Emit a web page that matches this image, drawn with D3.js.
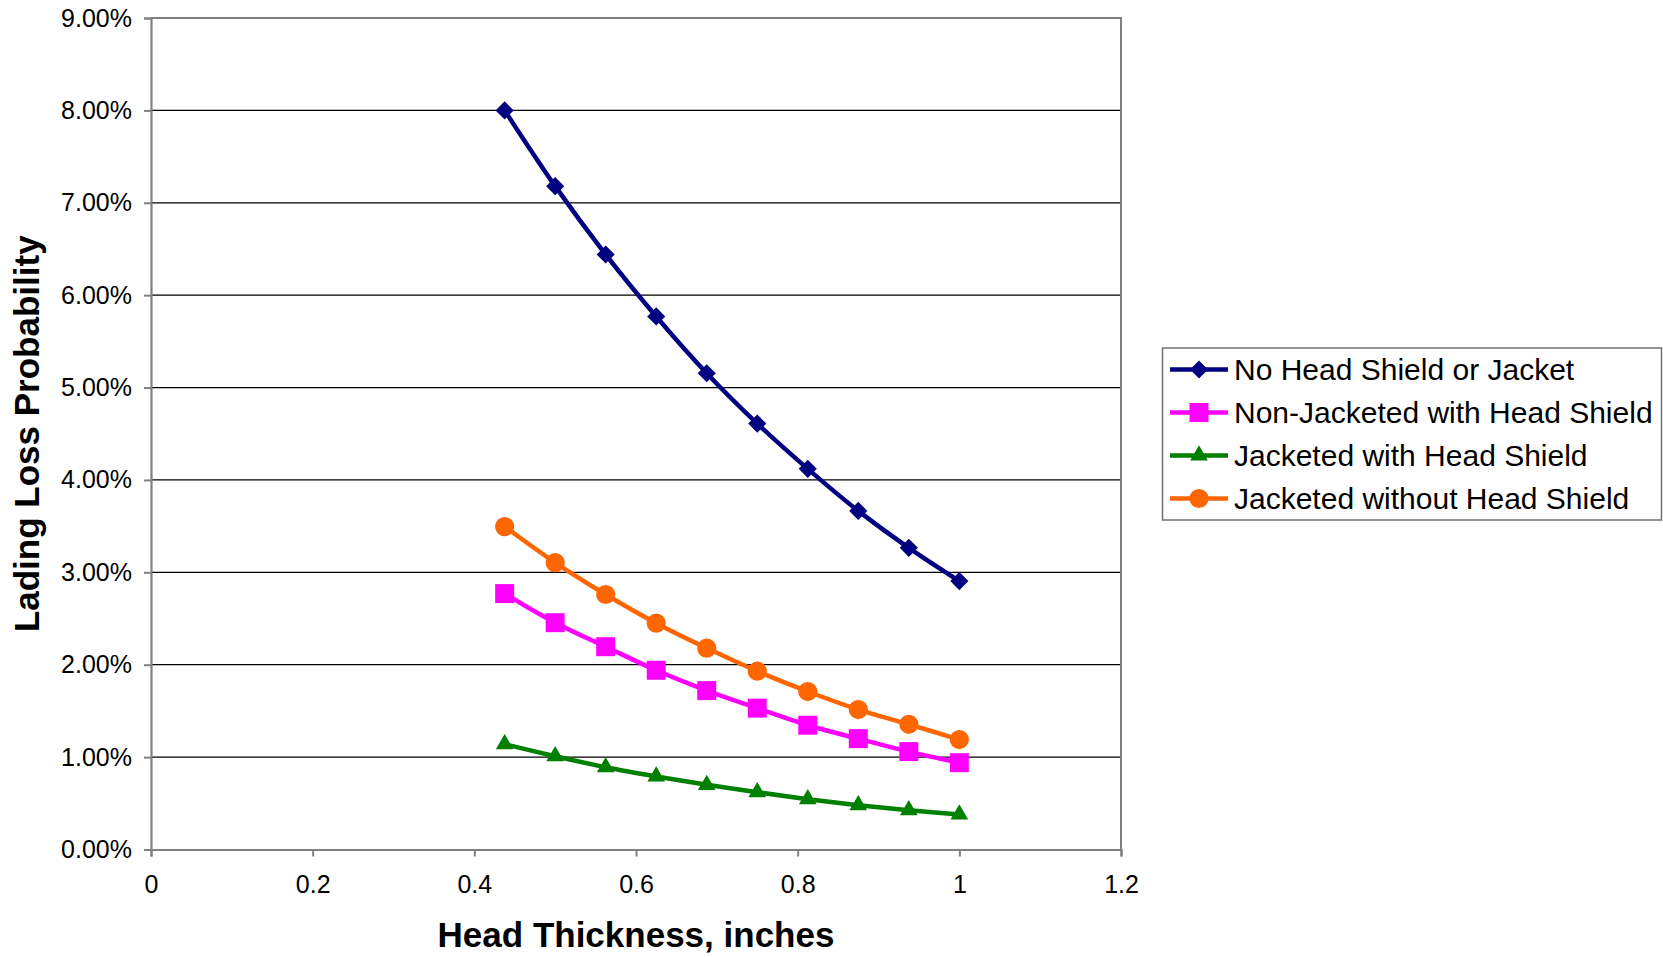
<!DOCTYPE html>
<html>
<head>
<meta charset="utf-8">
<script src="https://cdn.jsdelivr.net/npm/d3@7"></script>
<style>
  html, body { margin: 0; padding: 0; background: #fff; }
  svg { display: block; font-family: "Liberation Sans", Arial, sans-serif; }
</style>
</head>
<body>
<svg id="chart" width="1663" height="957"></svg>
<script>
// Head thickness (inches) shared by every series
const thickness = [0.4375, 0.5, 0.5625, 0.625, 0.6875, 0.75, 0.8125, 0.875, 0.9375, 1.0];

// Lading loss probability (%) per configuration
const noShieldNoJacket = [8.00, 7.18, 6.44, 5.77, 5.155, 4.61, 4.12, 3.665, 3.265, 2.905];
const nonJacketedShield = [2.77, 2.455, 2.195, 1.94, 1.72, 1.53, 1.345, 1.20, 1.06, 0.94];
const jacketedShield = [1.14, 1.01, 0.89, 0.79, 0.70, 0.62, 0.545, 0.48, 0.425, 0.38];
const jacketedNoShield = [3.495, 3.105, 2.76, 2.45, 2.18, 1.93, 1.71, 1.515, 1.355, 1.19];

const seriesNames = [
  "No Head Shield or Jacket",
  "Non-Jacketed with Head Shield",
  "Jacketed with Head Shield",
  "Jacketed without Head Shield"
];
const seriesValues = [noShieldNoJacket, nonJacketedShield, jacketedShield, jacketedNoShield];
const seriesColors = ["#000080", "#ff00ff", "#008000", "#ff6600"];
const seriesSymbols = ["diamond", "square", "triangle", "circle"];

const xTicks = [0, 0.2, 0.4, 0.6, 0.8, 1, 1.2];
const yTicks = [0, 1, 2, 3, 4, 5, 6, 7, 8, 9];

const svg = d3.select("#chart");
const plot = { left: 151, right: 1121, top: 18, bottom: 849.5 };

const x = d3.scaleLinear().domain([0, 1.2]).range([plot.left, plot.right]);
const y = d3.scaleLinear().domain([0, 9]).range([plot.bottom, plot.top]);

// horizontal gridlines
svg.append("g")
  .selectAll("line")
  .data(yTicks.filter(v => v > 0 && v < 9))
  .join("line")
  .attr("x1", plot.left).attr("x2", plot.right)
  .attr("y1", d => y(d)).attr("y2", d => y(d))
  .attr("stroke", "#000").attr("stroke-width", 1.2);

// plot frame (top and right)
svg.append("path")
  .attr("d", `M${plot.left},${plot.top}H${plot.right}V${plot.bottom}`)
  .attr("fill", "none").attr("stroke", "#808080").attr("stroke-width", 2);

// y axis
const yAxis = d3.axisLeft(y)
  .tickValues(yTicks)
  .tickSize(7)
  .tickPadding(12)
  .tickFormat(d => d.toFixed(2) + "%");
const gy = svg.append("g").attr("transform", `translate(${plot.left},0)`).call(yAxis);
gy.select(".domain").attr("stroke", "#808080").attr("stroke-width", 2.2);
gy.selectAll(".tick line").attr("stroke", "#808080").attr("stroke-width", 2);
gy.selectAll(".tick text")
  .attr("font-family", "'Liberation Sans', Arial, sans-serif")
  .attr("font-size", 25).attr("fill", "#000");

// x axis
const xAxis = d3.axisBottom(x)
  .tickValues(xTicks)
  .tickSize(7)
  .tickPadding(19)
  .tickFormat(d => d3.format("~g")(d));
const gx = svg.append("g").attr("transform", `translate(0,${plot.bottom})`).call(xAxis);
gx.select(".domain").attr("stroke", "#808080").attr("stroke-width", 2.2);
gx.selectAll(".tick line").attr("stroke", "#808080").attr("stroke-width", 2);
gx.selectAll(".tick text")
  .attr("font-family", "'Liberation Sans', Arial, sans-serif")
  .attr("font-size", 25).attr("fill", "#000");

// axis titles
svg.append("text")
  .attr("x", (plot.left + plot.right) / 2).attr("y", 947)
  .attr("text-anchor", "middle")
  .attr("font-size", 35).attr("font-weight", "bold")
  .text("Head Thickness, inches");

svg.append("text")
  .attr("transform", `translate(39,${(plot.top + plot.bottom) / 2}) rotate(-90)`)
  .attr("text-anchor", "middle")
  .attr("font-size", 35).attr("font-weight", "bold")
  .text("Lading Loss Probability");

// marker shapes
const symbolFor = {
  diamond: d3.symbol().type(d3.symbolDiamond2).size(210),
  square: d3.symbol().type(d3.symbolSquare).size(360),
  triangle: d3.symbol().type(d3.symbolTriangle).size(135),
  circle: d3.symbol().type(d3.symbolCircle).size(290)
};

const line = d3.line()
  .x(d => x(d[0]))
  .y(d => y(d[1]))
  .curve(d3.curveCatmullRom.alpha(0.5));

// series are drawn back to front so the top series sits above the others
const order = [2, 1, 3, 0];
order.forEach(i => {
  const pts = thickness.map((t, j) => [t, seriesValues[i][j]]);
  const g = svg.append("g");
  g.append("path")
    .datum(pts)
    .attr("d", line)
    .attr("fill", "none")
    .attr("stroke", seriesColors[i])
    .attr("stroke-width", 4.5);
  g.selectAll("path.mark")
    .data(pts)
    .join("path")
    .attr("class", "mark")
    .attr("transform", d => `translate(${x(d[0])},${y(d[1])})`)
    .attr("d", symbolFor[seriesSymbols[i]]())
    .attr("fill", seriesColors[i]);
});

// legend
const legend = svg.append("g");
legend.append("rect")
  .attr("x", 1162.5).attr("y", 348)
  .attr("width", 499).attr("height", 172)
  .attr("fill", "#fff").attr("stroke", "#707070").attr("stroke-width", 1.5);

seriesNames.forEach((name, i) => {
  const cy = 369.5 + i * 43;
  const row = legend.append("g");
  row.append("line")
    .attr("x1", 1170).attr("x2", 1228)
    .attr("y1", cy).attr("y2", cy)
    .attr("stroke", seriesColors[i]).attr("stroke-width", 4.5);
  row.append("path")
    .attr("transform", `translate(1199,${cy})`)
    .attr("d", symbolFor[seriesSymbols[i]]())
    .attr("fill", seriesColors[i]);
  row.append("text")
    .attr("x", 1234).attr("y", cy)
    .attr("dy", "0.36em")
    .attr("font-size", 30)
    .text(name);
});
</script>
</body>
</html>
